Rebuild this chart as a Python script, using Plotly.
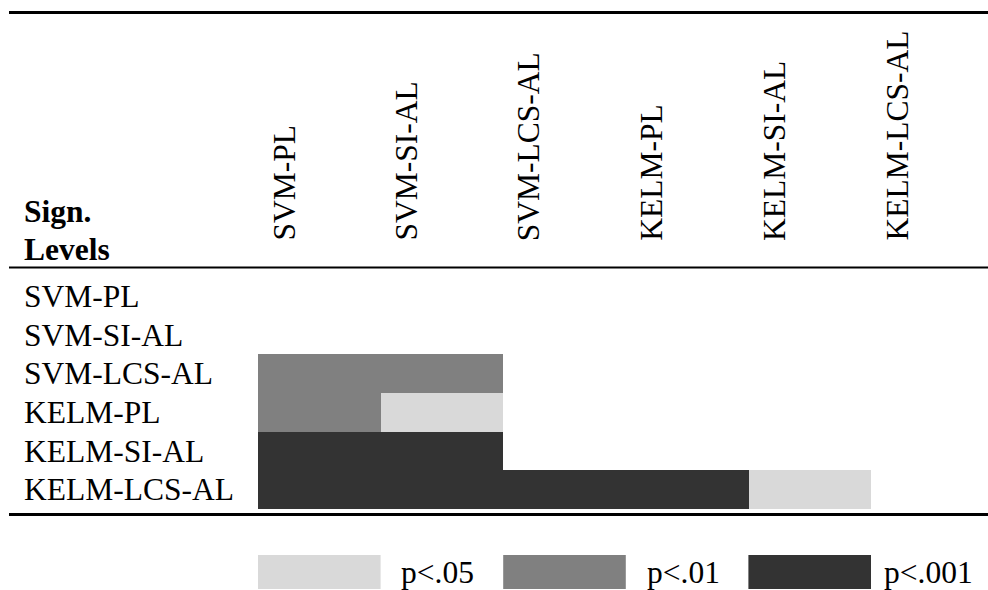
import plotly.graph_objects as go

# ---------------- data ----------------
models = ["SVM-PL", "SVM-SI-AL", "SVM-LCS-AL", "KELM-PL", "KELM-SI-AL", "KELM-LCS-AL"]
level_labels = ["p<.05", "p<.01", "p<.001"]
level_thresholds = [0.05, 0.01, 0.001]
level_colors = ["#d9d9d9", "#808080", "#333333"]

# significance threshold per (row model, column model); None = not significant
sig_svm_pl = [None, None, None, None, None, None]
sig_svm_si_al = [None, None, None, None, None, None]
sig_svm_lcs_al = [0.01, 0.01, None, None, None, None]
sig_kelm_pl = [0.01, 0.05, None, None, None, None]
sig_kelm_si_al = [0.001, 0.001, None, None, None, None]
sig_kelm_lcs_al = [0.001, 0.001, 0.001, 0.001, 0.05, None]

rows = [sig_svm_pl, sig_svm_si_al, sig_svm_lcs_al, sig_kelm_pl, sig_kelm_si_al, sig_kelm_lcs_al]
code_of = {t: i + 1 for i, t in enumerate(level_thresholds)}
z = [[code_of[v] if v is not None else None for v in r] for r in rows]

# ---------------- layout geometry (pixels) ----------------
W, H = 988, 590
ML, MT, MB = 258, 277, 81
PW = W - ML
PH = H - MT - MB
COLW = 122.6


def py(p):  # pixel y -> paper y
    return (H - MB - p) / PH


def px(p):  # pixel x -> paper x
    return (p - ML) / PW


FONT = "Liberation Serif"
FS = 31.5

colorscale = [
    [0.0, level_colors[0]], [1 / 3, level_colors[0]],
    [1 / 3, level_colors[1]], [2 / 3, level_colors[1]],
    [2 / 3, level_colors[2]], [1.0, level_colors[2]],
]

fig = go.Figure(
    go.Heatmap(
        z=z, x=models, y=models, zmin=0.5, zmax=3.5,
        colorscale=colorscale, showscale=False, xgap=0, ygap=0,
        hoverongaps=False,
    )
)

annotations = []
# column headers (rotated)
for i, m in enumerate(models):
    annotations.append(dict(
        x=i - 0.5, xref="x", xanchor="left", xshift=6,
        y=1, yref="paper", yanchor="bottom", yshift=34,
        text=m, textangle=-90, showarrow=False,
        font=dict(family=FONT, size=FS, color="#000"),
    ))
# row labels
for m in models:
    annotations.append(dict(
        x=px(22), xref="paper", xanchor="left",
        y=m, yref="y", yanchor="middle",
        text=m, showarrow=False,
        font=dict(family=FONT, size=FS, color="#000"),
    ))
# corner header
annotations.append(dict(x=px(22), xref="paper", xanchor="left", y=1, yref="paper",
                        yanchor="middle", yshift=66, text="<b>Sign.</b>", showarrow=False,
                        font=dict(family=FONT, size=FS, color="#000")))
annotations.append(dict(x=px(22), xref="paper", xanchor="left", y=1, yref="paper",
                        yanchor="middle", yshift=28, text="<b>Levels</b>", showarrow=False,
                        font=dict(family=FONT, size=FS, color="#000")))

shapes = []
# rules
for yy, w in [(12.5, 3), (267.5, 2), (514.5, 3)]:
    shapes.append(dict(type="line", xref="paper", yref="paper",
                       x0=px(9), x1=1.0, y0=py(yy), y1=py(yy),
                       line=dict(color="#000", width=w)))
# legend
for k, (lab, col) in enumerate(zip(level_labels, level_colors)):
    ci = 2 * k
    shapes.append(dict(type="rect", xref="x", yref="paper",
                       x0=ci - 0.5, x1=ci + 0.5, y0=py(589), y1=py(555),
                       fillcolor=col, line=dict(width=0)))
    annotations.append(dict(x=ci + 1, xref="x", xanchor="center", xshift=-4,
                            y=py(572), yref="paper", yanchor="middle",
                            text=lab.replace("<", "&lt;"), showarrow=False,
                            font=dict(family=FONT, size=FS, color="#000")))

fig.update_layout(
    width=W, height=H,
    margin=dict(l=ML, r=0, t=MT, b=MB, pad=0),
    paper_bgcolor="white", plot_bgcolor="white",
    xaxis=dict(type="category", range=[-0.5, -0.5 + PW / COLW], showticklabels=False,
               showgrid=False, zeroline=False, showline=False, ticks=""),
    yaxis=dict(type="category", range=[5.5, -0.5], showticklabels=False,
               showgrid=False, zeroline=False, showline=False, ticks=""),
    annotations=annotations, shapes=shapes,
    showlegend=False,
)

fig.write_html(
    "out.html",
    config={"displayModeBar": False},
    post_script="document.body.style.margin='0';document.body.style.overflow='hidden';",
)
